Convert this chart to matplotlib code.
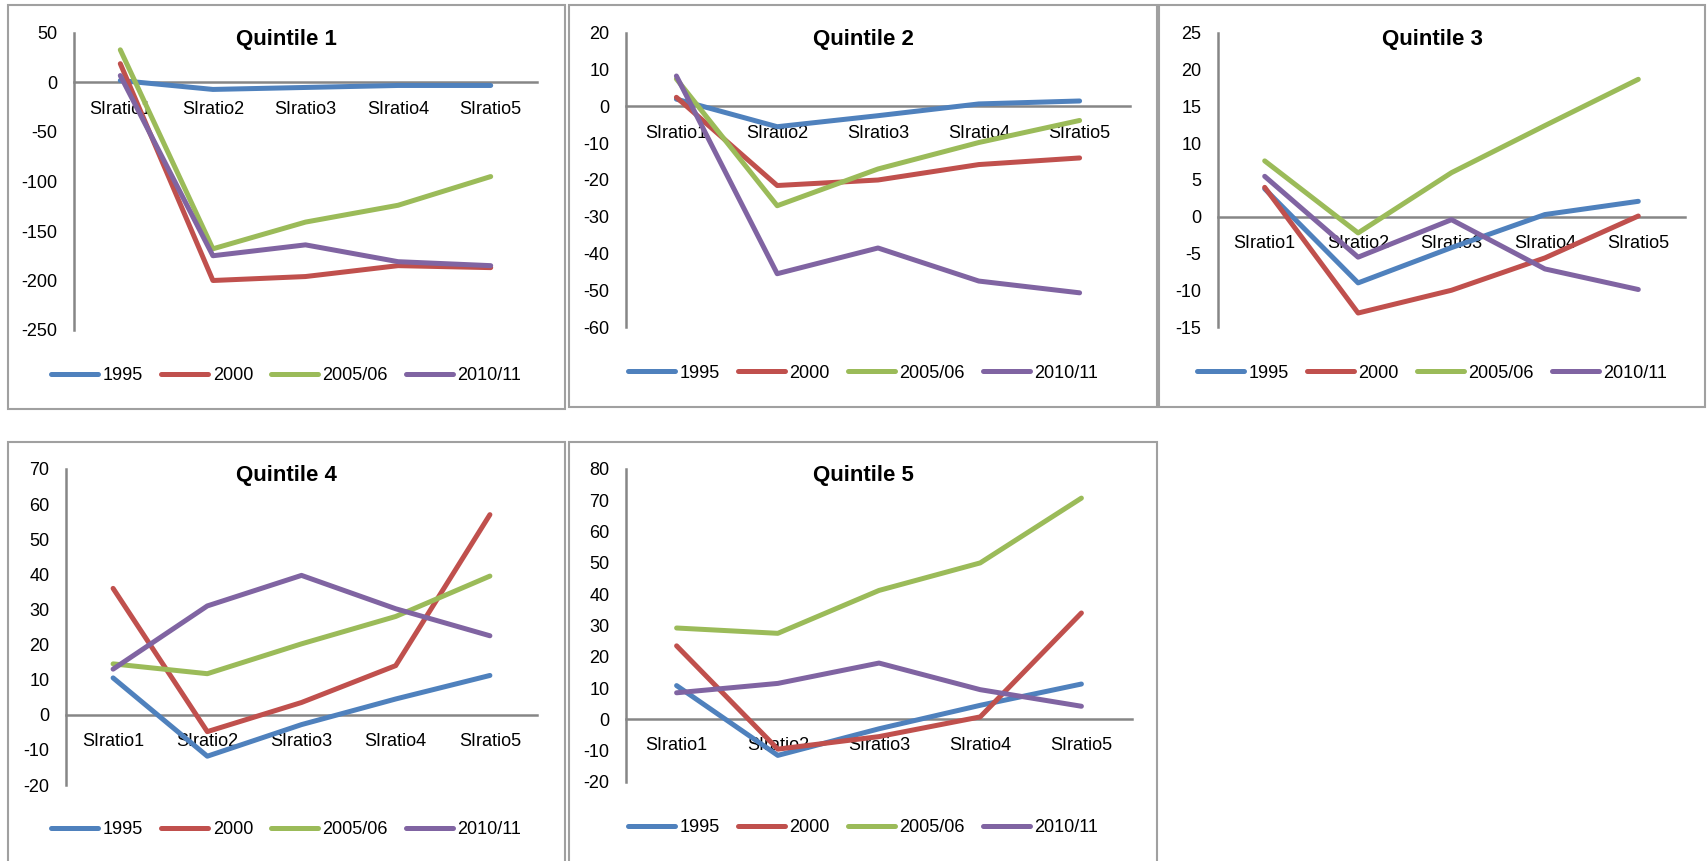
import matplotlib.pyplot as plt
from matplotlib.patches import Rectangle

plt.rcParams['font.family'] = ['Liberation Sans', 'DejaVu Sans']
plt.rcParams['axes.unicode_minus'] = False

# ---------------- data ----------------
categorias = ["SIratio1", "SIratio2", "SIratio3", "SIratio4", "SIratio5"]
series = ["1995", "2000", "2005/06", "2010/11"]
colores = ["#4F81BD", "#C0504D", "#9BBB59", "#8064A2"]

q1_1995 = [2, -7, -5, -3, -3]
q1_2000 = [19, -200, -196, -185, -187]
q1_2005 = [33, -168, -141, -124, -95]
q1_2010 = [7, -175, -164, -181, -185]

q2_1995 = [2, -5.5, -2.5, 0.7, 1.5]
q2_2000 = [2.5, -21.5, -20, -15.8, -14]
q2_2005 = [7.5, -27, -17, -9.8, -3.8]
q2_2010 = [8.3, -45.5, -38.5, -47.5, -50.7]

q3_1995 = [3.8, -9, -4.2, 0.3, 2.1]
q3_2000 = [4, -13.1, -10, -5.6, 0.1]
q3_2005 = [7.6, -2.2, 6, 12.4, 18.7]
q3_2010 = [5.5, -5.5, -0.4, -7.1, -9.9]

q4_1995 = [10.5, -11.8, -2.8, 4.5, 11.2]
q4_2000 = [36, -4.8, 3.5, 14, 57]
q4_2005 = [14.5, 11.7, 20.2, 28, 39.5]
q4_2010 = [13, 31, 39.7, 30.2, 22.5]

q5_1995 = [10.8, -11.5, -3, 4.5, 11.3]
q5_2000 = [23.5, -9.5, -5.5, 0.8, 34]
q5_2005 = [29.2, 27.5, 41.2, 50, 70.7]
q5_2010 = [8.5, 11.5, 18, 9.5, 4.2]

titulos = ["Quintile 1", "Quintile 2", "Quintile 3", "Quintile 4", "Quintile 5"]
datos = [
    [q1_1995, q1_2000, q1_2005, q1_2010],
    [q2_1995, q2_2000, q2_2005, q2_2010],
    [q3_1995, q3_2000, q3_2005, q3_2010],
    [q4_1995, q4_2000, q4_2005, q4_2010],
    [q5_1995, q5_2000, q5_2005, q5_2010],
]
limites = [(-250, 50, 50), (-60, 20, 10), (-15, 25, 5), (-20, 70, 10), (-20, 80, 10)]

# ---------------- layout (pixels) ----------------
W, H = 1708, 861
# recuadro de cada gráfico: izq, arriba, der, abajo
cajas = [(8, 5, 565, 409), (569, 5, 1157, 407), (1159, 5, 1705, 407),
         (8, 442, 565, 870), (569, 442, 1157, 870)]
# área de trazado
areas = [(74, 33, 537, 330), (626, 33, 1130, 327), (1218, 33, 1685, 327),
         (66, 469, 537, 785), (626, 469, 1132, 782)]
titulo_y = [39, 39, 39, 475, 475]
leyenda_y = [376, 373, 373, 830, 828]

fig = plt.figure(figsize=(W / 100, H / 100), dpi=100)
fig.patch.set_facecolor("white")


def fx(x):
    return x / W


def fy(y):
    return 1 - y / H


for i in range(5):
    cl, ct, cr, cb = cajas[i]
    fig.patches.append(Rectangle((fx(cl), fy(cb)), fx(cr - cl), (cb - ct) / H,
                                 transform=fig.transFigure, fill=False,
                                 edgecolor="#A0A0A0", linewidth=1.5))

    l, t, r, b = areas[i]
    ax = fig.add_axes([fx(l), fy(b), fx(r - l), (b - t) / H])
    x = list(range(len(categorias)))
    lineas = []
    for serie, col, vals in zip(series, colores, datos[i]):
        ln, = ax.plot(x, vals, color=col, linewidth=3.6, label=serie,
                      solid_capstyle="round", solid_joinstyle="round", zorder=3)
        lineas.append(ln)

    lo, hi, paso = limites[i]
    ax.set_ylim(lo, hi)
    ax.set_yticks(range(lo, hi + 1, paso))
    ax.set_xlim(-0.5, len(categorias) - 0.5)
    ax.set_xticks(x)
    ax.set_xticklabels(categorias)

    for s in ["top", "right"]:
        ax.spines[s].set_visible(False)
    ax.spines["bottom"].set_position(("data", 0))
    ax.spines["bottom"].set_color("#868686")
    ax.spines["bottom"].set_linewidth(1.8)
    ax.spines["left"].set_color("#868686")
    ax.spines["left"].set_linewidth(1.8)
    ax.tick_params(axis="both", length=0, labelsize=13, colors="black")
    ax.tick_params(axis="x", pad=13)
    ax.tick_params(axis="y", pad=12)
    ax.patch.set_visible(False)

    fig.text(fx((cl + cr) / 2), fy(titulo_y[i]), titulos[i], ha="center", va="center",
             fontsize=16, fontweight="bold")

    fig.legend(handles=lineas, loc="center", ncol=4, frameon=False, fontsize=13,
               bbox_to_anchor=(fx((cl + cr) / 2), fy(leyenda_y[i])),
               bbox_transform=fig.transFigure, handlelength=2.6,
               handletextpad=0.25, columnspacing=1.0)

fig.savefig("out.png", dpi=100)
